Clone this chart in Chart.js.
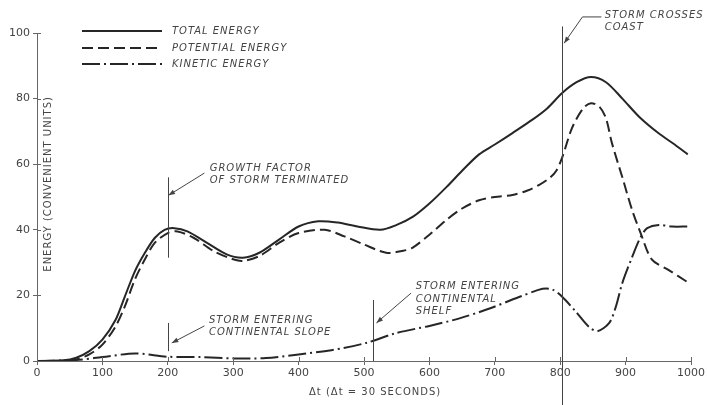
<!DOCTYPE html>
<html>
<head>
<meta charset="utf-8">
<script src="https://cdn.jsdelivr.net/npm/chart.js@4/dist/chart.umd.min.js"></script>
<style>
  html, body { margin: 0; padding: 0; background: #fff; }
  #wrap { width: 707px; height: 405px; }
</style>
</head>
<body>
<div id="wrap"><canvas id="energyChart" width="707" height="405"></canvas></div>
<script>
// --- Data (time steps, energy in convenient units) ---
const totalX = [0, 40, 60, 80, 100, 120, 134, 150, 165, 180, 195, 210, 230, 260, 290, 315, 340, 370, 400, 430, 460, 490, 525, 550, 575, 600, 626, 650, 676, 700, 727, 757, 780, 803, 825, 847, 870, 895, 921, 950, 975, 995];
const totalY = [0, 0.2, 1, 3, 6.5, 12.5, 19.5, 27.5, 33, 37.5, 40, 40.5, 39.5, 36, 32.5, 31.5, 33, 37, 41, 42.6, 42.2, 41, 40, 41.5, 44, 48, 53, 58, 63, 66, 69.5, 73.5, 77, 81.7, 85, 86.6, 85, 80, 74.4, 69.5, 66, 63];

const potentialX = [0, 40, 60, 80, 100, 120, 134, 150, 165, 180, 200, 215, 240, 270, 300, 315, 340, 370, 400, 440, 470, 500, 534, 560, 574, 600, 626, 650, 676, 700, 727, 750, 768, 785, 794, 803, 818, 835, 847, 860, 870, 879, 895, 910, 923, 940, 966, 995];
const potentialY = [0, 0, 0.5, 2, 5, 10.5, 16.5, 25, 31, 36, 39, 39.5, 37.5, 33.5, 31, 30.5, 32, 36, 39, 40, 38, 35.5, 33, 33.6, 34.5, 38.5, 43, 46.5, 49, 50, 50.6, 52, 53.7, 56, 58, 62, 71, 77, 78.6, 77.5, 74, 66.5, 56, 46, 39, 31, 27.7, 24];

const kineticX = [0, 60, 100, 150, 200, 250, 300, 350, 400, 450, 503, 549, 600, 646, 692, 737, 773, 788, 803, 824, 844, 857, 875, 885, 895, 910, 923, 933, 951, 971, 995];
const kineticY = [0, 0.3, 1.2, 2.3, 1.3, 1.2, 0.8, 0.9, 2, 3.3, 5.5, 8.5, 10.7, 13, 16, 19.5, 22, 21.8, 19.6, 15, 10.4, 9.1, 11.6, 16.5, 23.8, 31.7, 37.8, 40.5, 41.5, 41, 41];

const xTicks = [0, 100, 200, 300, 400, 500, 600, 700, 800, 900, 1000];
const yTicks = [0, 20, 40, 60, 80, 100];

const seriesLabels = ['TOTAL ENERGY', 'POTENTIAL ENERGY', 'KINETIC ENERGY'];

document.addEventListener('DOMContentLoaded', () => {
    const ink = '#262626';
    const axisInk = '#666';
    const textInk = '#444';

    const toPoints = (xs, ys) => xs.map((x, i) => ({ x: x, y: ys[i] }));

    // --- Annotations (all in data units, converted by the scales) ---
    const notes = [
        { line: [200, 31.5, 56], arrow: [256, 57.3, 201, 50.5], text: ['GROWTH FACTOR', 'OF STORM TERMINATED'], at: [264, 58.8] },
        { line: [200, 3, 11.6], arrow: [256, 10.7, 206, 5.5], text: ['STORM ENTERING', 'CONTINENTAL SLOPE'], at: [263, 12.5] },
        { line: [514, 0, 18.6], arrow: [572, 20.7, 519, 11.6], text: ['STORM ENTERING', 'CONTINENTAL', 'SHELF'], at: [579, 22.6] },
        { line: [803, -14, 102], arrow: [834, 104.9, 806, 96.9], hook: [863, 104.9], text: ['STORM CROSSES', 'COAST'], at: [868, 105.5] }
    ];

    function arrowHead(ctx, x1, y1, x2, y2) {
        const a = Math.atan2(y2 - y1, x2 - x1);
        const len = 7, wing = 0.35;
        ctx.beginPath();
        ctx.moveTo(x2, y2);
        ctx.lineTo(x2 - len * Math.cos(a - wing), y2 - len * Math.sin(a - wing));
        ctx.lineTo(x2 - len * Math.cos(a + wing), y2 - len * Math.sin(a + wing));
        ctx.closePath();
        ctx.fill();
    }

    const extras = {
        id: 'extras',
        afterDraw(chart) {
            const ctx = chart.ctx;
            const xs = chart.scales.x, ys = chart.scales.y;
            const px = v => xs.getPixelForValue(v);
            const py = v => ys.getPixelForValue(v);

            ctx.save();

            // inner half of the cross ticks
            ctx.strokeStyle = axisInk;
            ctx.lineWidth = 1;
            ctx.beginPath();
            yTicks.forEach(t => { ctx.moveTo(px(0), Math.round(py(t)) + 0.5); ctx.lineTo(px(0) + 4, Math.round(py(t)) + 0.5); });
            xTicks.forEach(t => { ctx.moveTo(Math.round(px(t)) + 0.5, py(0)); ctx.lineTo(Math.round(px(t)) + 0.5, py(0) - 4); });
            ctx.stroke();

            // axis titles
            ctx.fillStyle = textInk;
            ctx.font = '10px "DejaVu Sans"';
            ctx.letterSpacing = '1px';
            ctx.textAlign = 'center';
            ctx.textBaseline = 'middle';
            ctx.fillText('\u0394t (\u0394t = 30 SECONDS)', px(517), 392);
            ctx.save();
            ctx.translate(px(0) + 11, py(54));
            ctx.rotate(-Math.PI / 2);
            ctx.fillText('ENERGY (CONVENIENT UNITS)', 0, 0);
            ctx.restore();

            // legend
            const legendY = [31, 48, 64];
            chart.data.datasets.forEach((ds, i) => {
                ctx.strokeStyle = ds.borderColor;
                ctx.lineWidth = ds.borderWidth;
                ctx.setLineDash(ds.borderDash || []);
                ctx.beginPath();
                ctx.moveTo(82, legendY[i]);
                ctx.lineTo(162, legendY[i]);
                ctx.stroke();
                ctx.setLineDash([]);
                ctx.fillStyle = textInk;
                ctx.font = 'italic 10px "DejaVu Sans"';
                ctx.textAlign = 'left';
                ctx.fillText(ds.label, 172, legendY[i]);
            });

            // annotations
            notes.forEach(n => {
                ctx.strokeStyle = '#444';
                ctx.fillStyle = '#444';
                ctx.lineWidth = 1;
                const lx = Math.round(px(n.line[0])) + 0.5;
                ctx.beginPath();
                ctx.moveTo(lx, py(n.line[1]));
                ctx.lineTo(lx, py(n.line[2]));
                ctx.stroke();

                const [ax1, ay1, ax2, ay2] = n.arrow;
                ctx.beginPath();
                if (n.hook) { ctx.moveTo(px(n.hook[0]), py(n.hook[1])); ctx.lineTo(px(ax1), py(ay1)); }
                else ctx.moveTo(px(ax1), py(ay1));
                ctx.lineTo(px(ax2), py(ay2));
                ctx.stroke();
                arrowHead(ctx, px(ax1), py(ay1), px(ax2), py(ay2));

                ctx.fillStyle = textInk;
                ctx.font = 'italic 10px "DejaVu Sans"';
                ctx.textAlign = 'left';
                n.text.forEach((t, k) => ctx.fillText(t, px(n.at[0]), py(n.at[1]) + k * 12.5));
            });

            ctx.restore();
        }
    };

    new Chart(document.getElementById('energyChart').getContext('2d'), {
        type: 'line',
        data: {
            datasets: [
                { label: seriesLabels[0], data: toPoints(totalX, totalY), borderColor: ink, borderWidth: 2 },
                { label: seriesLabels[1], data: toPoints(potentialX, potentialY), borderColor: ink, borderWidth: 2, borderDash: [11, 5] },
                { label: seriesLabels[2], data: toPoints(kineticX, kineticY), borderColor: ink, borderWidth: 2, borderDash: [18, 4, 2, 4] }
            ]
        },
        options: {
            responsive: false,
            animation: false,
            layout: { padding: { top: 33, right: 15, left: 0, bottom: 0 } },
            elements: {
                point: { radius: 0 },
                line: { tension: 0.3, fill: false }
            },
            plugins: { legend: { display: false }, tooltip: { enabled: false } },
            scales: {
                x: {
                    type: 'linear', min: 0, max: 1000,
                    afterFit: s => { s.height = 44; },
                    afterBuildTicks: s => { s.ticks = xTicks.map(v => ({ value: v })); },
                    grid: { drawOnChartArea: false, tickLength: 4, color: axisInk },
                    border: { color: axisInk, width: 1 },
                    ticks: { color: textInk, padding: 2, maxRotation: 0, font: { family: 'DejaVu Sans', size: 11 }, callback: v => String(v) }
                },
                y: {
                    min: 0, max: 100,
                    afterFit: s => { s.width = 37; },
                    afterBuildTicks: s => { s.ticks = yTicks.map(v => ({ value: v })); },
                    grid: { drawOnChartArea: false, tickLength: 4, color: axisInk },
                    border: { color: axisInk, width: 1 },
                    ticks: { color: textInk, padding: 3, font: { family: 'DejaVu Sans', size: 11 }, callback: v => String(v) }
                }
            }
        },
        plugins: [extras]
    });
});
</script>
</body>
</html>
